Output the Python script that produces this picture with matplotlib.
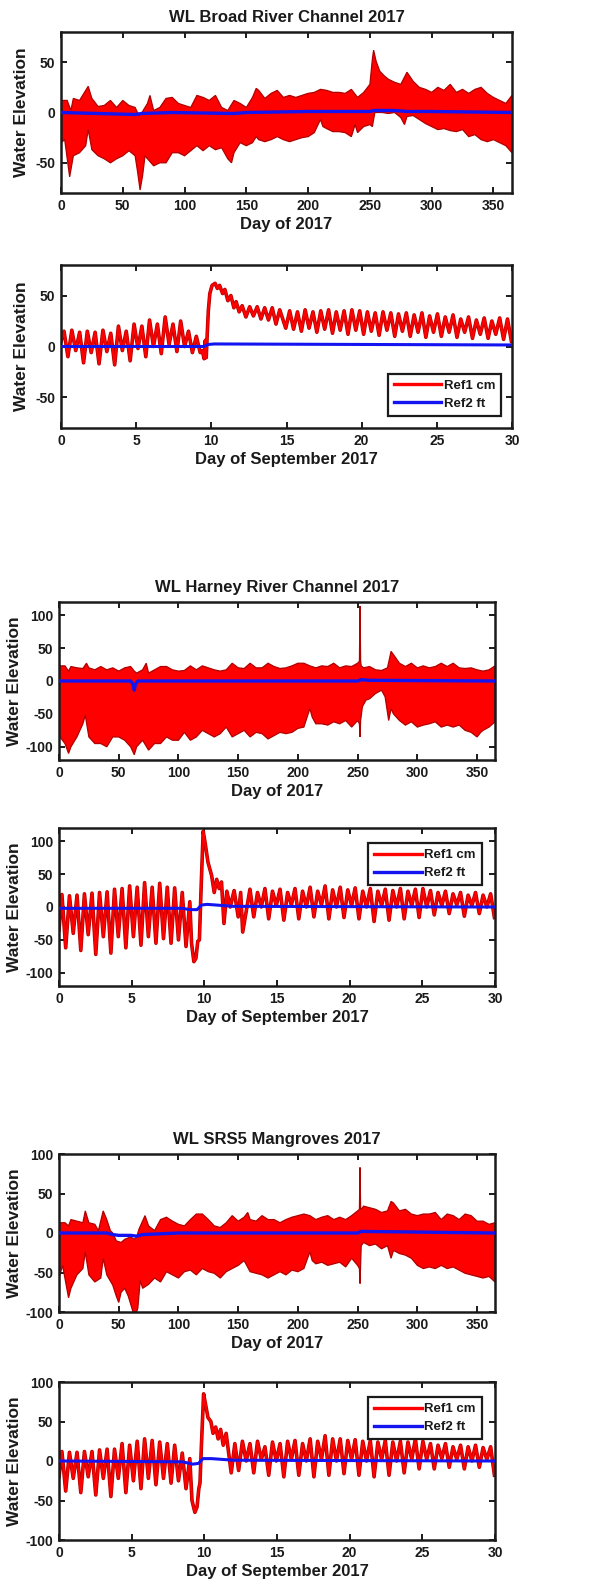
import numpy as np
import matplotlib
matplotlib.use("Agg")
import matplotlib.pyplot as plt
from matplotlib.lines import Line2D

plt.rcParams['font.family'] = ['Liberation Sans', 'DejaVu Sans']
plt.rcParams['font.weight'] = 'bold'
plt.rcParams['axes.unicode_minus'] = False

N = None

# ---------------- annual records: upper / lower envelope of Ref1 (cm) ----------------
broad_hi_days = [0, 5, 8, 10, 15, 20, 22, 25, 30, 35, 40, 45, 50, 55, 60, 63, 65, 70, 72, 75,
                 80, 85, 90, 95, 100, 105, 110, 115, 120, 125, 130, 135, 140, 145, 150, 155, 158,
                 160, 165, 170, 175, 180, 185, 190, 195, 200, 205, 210, 215, 220, 225, 230, 235,
                 240, 245, 250, 252, 253, 255, 258, 262, 265, 270, 275, 280, 285, 290, 295, 300,
                 305, 310, 315, 320, 325, 330, 335, 340, 345, 350, 355, 360, 365]
broad_hi = [12, 12, 2, 14, 12, 22, 26, 14, 6, 7, 12, 5, 12, 7, 5, -3, -1, 9, 17, 2,
            5, 14, 15, 9, 7, 5, 17, 15, 12, 17, 5, 2, 12, 9, 5, 15, 24,
            22, 14, 19, 22, 15, 17, 15, 17, 19, 20, 23, 22, 20, 20, 19, 23,
            15, 20, 28, 53, 62, 51, 41, 36, 33, 30, 28, 40, 31, 25, 23, 20,
            25, 22, 28, 20, 23, 19, 23, 25, 19, 15, 12, 9, 17]
broad_lo_days = [0, 3, 7, 10, 15, 20, 22, 25, 30, 35, 40, 45, 50, 55, 60, 62, 64, 66, 68, 70,
                 75, 80, 85, 90, 95, 100, 105, 110, 115, 120, 125, 130, 135, 138, 140, 145, 150,
                 155, 158, 160, 165, 170, 175, 180, 185, 190, 195, 200, 205, 210, 212, 215, 220,
                 225, 230, 235, 238, 240, 245, 250, 252, 254, 260, 265, 270, 275, 278, 280, 285,
                 290, 295, 300, 305, 310, 315, 320, 325, 330, 335, 340, 345, 350, 355, 360, 365]
broad_lo = [-30, -27, -64, -43, -40, -33, -17, -37, -43, -46, -50, -46, -43, -38, -43, -59, -77, -63, -43, -46,
            -53, -50, -50, -40, -40, -43, -38, -33, -38, -33, -37, -35, -46, -50, -40, -30, -33,
            -30, -24, -27, -29, -27, -24, -27, -29, -27, -25, -24, -20, -7, -14, -16, -19,
            -19, -20, -24, -12, -20, -14, -12, -14, 0, 0, -1, 0, -5, -12, -4, -3,
            -7, -11, -14, -17, -16, -18, -19, -17, -24, -22, -27, -29, -27, -30, -33, -40]
broad_ref2_days = [0, 30, 60, 65, 90, 140, 150, 200, 250, 253, 270, 280, 300, 365]
broad_ref2 = [0, -1, -2, -1, 0, -1, 0, 1, 1, 2, 2, 1, 1, 0]

harney_hi_days = [0, 5, 8, 10, 15, 20, 23, 25, 30, 35, 40, 45, 50, 55, 60, 63, 65, 70, 73, 75,
                  80, 85, 90, 95, 100, 105, 110, 115, 120, 125, 130, 135, 140, 145, 150, 155, 160,
                  165, 170, 175, 180, 185, 190, 195, 200, 205, 210, 215, 220, 225, 230, 235, 240,
                  245, 250, 251.5, 252, 252.5, 253, 255, 260, 265, 270, 275, 278, 280, 285, 290,
                  295, 300, 305, 310, 315, 320, 325, 330, 335, 340, 345, 350, 355, 360, 365]
harney_hi = [23, 23, 15, 22, 20, 19, 27, 20, 17, 22, 17, 20, 15, 20, 22, 15, 12, 17, 27, 12,
             17, 22, 22, 17, 15, 16, 23, 17, 23, 20, 17, 15, 17, 27, 20, 19, 27,
             20, 20, 27, 22, 19, 20, 23, 27, 27, 23, 20, 23, 22, 27, 20, 23,
             22, 27, 30, 114, 30, 23, 20, 22, 17, 16, 20, 45, 40, 27, 22,
             27, 20, 23, 20, 22, 27, 22, 27, 20, 19, 20, 17, 15, 17, 23]
harney_lo_days = [0, 5, 8, 10, 15, 20, 22, 25, 30, 35, 40, 45, 50, 55, 60, 63, 65, 70, 75, 80,
                  85, 90, 95, 100, 105, 110, 115, 120, 125, 130, 135, 140, 145, 150, 155, 160, 165,
                  170, 175, 180, 185, 190, 195, 200, 205, 210, 212, 215, 220, 225, 230, 235, 240,
                  245, 250, 251.5, 252, 252.5, 254, 257, 260, 265, 270, 273, 276, 278, 280, 285,
                  290, 295, 300, 305, 310, 315, 320, 325, 330, 335, 340, 345, 350, 353, 355, 360, 365]
harney_lo = [-83, -95, -110, -100, -85, -65, -52, -85, -95, -95, -100, -85, -85, -90, -100, -112, -100, -90, -105, -95,
             -95, -85, -90, -90, -78, -90, -85, -75, -80, -85, -80, -70, -85, -80, -75, -85, -78,
             -80, -88, -83, -78, -80, -78, -72, -70, -42, -55, -65, -65, -67, -62, -65, -60,
             -70, -60, -65, -85, -60, -39, -29, -27, -19, -14, -24, -60, -42, -50, -60,
             -67, -62, -70, -67, -65, -62, -70, -67, -70, -67, -75, -78, -85, -78, -75, -70, -62]
harney_ref2_days = [0, 60, 62, 63, 64, 66, 250, 253, 260, 365]
harney_ref2 = [0, 0, -5, -14, -5, 0, 0, 2, 1, 0]

srs5_hi_days = [0, 5, 8, 10, 15, 20, 22, 25, 30, 33, 37, 40, 43, 45, 48, 52, 55, 60, 63, 65,
                67, 72, 75, 80, 85, 90, 95, 100, 105, 110, 115, 120, 125, 130, 135, 140, 145,
                150, 155, 158, 160, 165, 170, 175, 180, 185, 190, 195, 200, 205, 210, 215, 220,
                225, 230, 235, 240, 245, 250, 251.5, 252, 252.5, 253, 255, 260, 265, 270, 275,
                278, 280, 285, 290, 295, 300, 305, 310, 315, 320, 325, 330, 335, 340, 345, 350,
                355, 360, 365]
srs5_hi = [13, 13, 9, 17, 15, 13, 28, 13, 11, 3, 28, 17, 3, 0, -10, -12, -8, -5, -8, -5,
           5, 22, 9, 3, 17, 20, 15, 11, 9, 17, 24, 24, 17, 9, 7, 13, 22,
           15, 20, 26, 17, 15, 22, 17, 17, 13, 17, 20, 22, 24, 22, 17, 20,
           22, 17, 20, 17, 22, 28, 30, 83, 30, 30, 34, 32, 30, 26, 28,
           40, 38, 28, 30, 24, 22, 24, 24, 26, 17, 24, 22, 17, 24, 22, 15,
           15, 11, 13]
srs5_lo_days = [0, 3, 8, 10, 15, 20, 22, 25, 30, 35, 37, 40, 45, 48, 50, 52, 55, 58, 60, 62,
                65, 66, 68, 70, 75, 80, 85, 90, 95, 100, 105, 110, 115, 120, 125, 130, 135,
                140, 145, 150, 155, 160, 165, 170, 175, 180, 185, 190, 195, 200, 205, 210, 212,
                215, 220, 225, 230, 235, 240, 245, 250, 251.5, 252, 252.5, 253, 255, 260, 265,
                270, 275, 278, 280, 285, 290, 295, 300, 305, 310, 315, 320, 325, 330, 335, 340,
                345, 350, 355, 360, 365]
srs5_lo = [-57, -41, -82, -70, -53, -45, -24, -53, -62, -57, -32, -53, -66, -80, -88, -75, -70, -80, -90, -100,
           -100, -95, -60, -70, -65, -57, -62, -49, -53, -57, -49, -47, -53, -45, -49, -51, -57,
           -49, -45, -41, -35, -49, -51, -53, -57, -53, -49, -53, -47, -49, -45, -24, -35,
           -39, -37, -41, -39, -37, -43, -32, -41, -45, -64, -40, -16, -12, -16, -14,
           -20, -16, -32, -22, -26, -28, -32, -41, -45, -43, -45, -41, -45, -43, -47, -51,
           -53, -55, -57, -55, -62]
srs5_ref2_days = [0, 40, 45, 50, 60, 65, 70, 100, 250, 253, 365]
srs5_ref2 = [0, 0, -2, -3, -3, -4, -2, 0, 0, 2, 0]

# ---------------- September: tidal high/low water times (days) ----------------
sep_tide_days = [0.20, 0.46, 0.72, 0.98, 1.24, 1.50, 1.75, 2.01, 2.27, 2.53, 2.79, 3.05, 3.31, 3.57,
                 3.82, 4.08, 4.34, 4.60, 4.86, 5.12, 5.38, 5.64, 5.89, 6.15, 6.41, 6.67, 6.93, 7.19,
                 7.45, 7.71, 7.96, 8.22, 8.48, 8.74, 9.00, 9.26, 9.52, 9.78, 10.03, 10.29, 10.55,
                 10.81, 11.07, 11.33, 11.59, 11.85, 12.10, 12.36, 12.62, 12.88, 13.14, 13.40, 13.66,
                 13.92, 14.17, 14.43, 14.69, 14.95, 15.21, 15.47, 15.73, 15.99, 16.24, 16.50, 16.76,
                 17.02, 17.28, 17.54, 17.80, 18.06, 18.31, 18.57, 18.83, 19.09, 19.35, 19.61, 19.87,
                 20.13, 20.38, 20.64, 20.90, 21.16, 21.42, 21.68, 21.94, 22.20, 22.45, 22.71, 22.97,
                 23.23, 23.49, 23.75, 24.01, 24.27, 24.52, 24.78, 25.04, 25.30, 25.56, 25.82, 26.08,
                 26.34, 26.59, 26.85, 27.11, 27.37, 27.63, 27.89, 28.15, 28.41, 28.66, 28.92, 29.18,
                 29.44, 29.70, 29.96]

# Broad River (cm): alternating high / low water; None during the storm surge
broad_sep_tide = [15, -10, 16, -4, 14, -16, 15, -6, 14, -17,
                  16, -5, 13, -18, 20, -4, 15, -14, 22, -2,
                  20, -10, 26, 0, 22, -7, 29, 2, 22, -5,
                  25, 0, 15, -6, 10, N,
                  N, N, N, N, N, N, N, N, N, N, N, N, N, N, N, N, N, N, N, N,
                  N, 18,
                  35, 17, 34, 15, 36, 18, 34, 14, 35, 17,
                  36, 13, 34, 16, 35, 12, 36, 16, 35, 12,
                  34, 15, 33, 11, 34, 16, 33, 10, 32, 15,
                  33, 10, 31, 14, 33, 9, 30, 14, 32, 10,
                  29, 14, 31, 9, 27, 14, 29, 8, 26, 12,
                  28, 8, 25, 12, 28, 7, 27, 5]
broad_sep_extra_days = [0.0, 9.26, 9.40, 9.52, 9.60, 9.66, 9.72, 9.80, 9.90, 10.05, 10.25, 10.40,
                        10.55, 10.75, 10.90, 11.10, 11.30, 11.50, 11.65, 11.85, 12.05, 12.30,
                        12.55, 12.80, 13.05, 13.30, 13.55, 13.80, 14.05, 14.30, 14.55]
broad_sep_extra = [5, -6, -4, -12, 6, -11, 10, 35, 52, 60, 62, 57,
                   60, 52, 56, 45, 50, 38, 44, 34, 40, 29,
                   39, 30, 39, 27, 38, 26, 38, 22, 36]
broad_sep_ref2_days = [0, 9.5, 9.8, 10.2, 30]
broad_sep_ref2 = [0, 0, 2, 2.5, 1.5]

harney_sep_tide = [19, -62, 17, -40, 18, -66, 20, -42, 21, -72,
                   22, -45, 23, -70, 27, -45, 28, -62, 32, -45,
                   30, -58, 37, -45, 30, -55, 36, -48, 30, -55,
                   29, -50, 22, -60,
                   N, N, N, N, N, N, N, N, N, N, N, N, N, N, N, N,
                   27, -15, 22, 0, 28, -18, 24, 2, 27, -20,
                   22, 3, 28, -18, 24, 0, 30, -15, 24, 3,
                   32, -18, 26, 0, 30, -16, 26, 2, 29, -18,
                   24, 0, 28, -22, 24, 2, 27, -20, 25, 0,
                   28, -18, 24, 2, 27, -16, 28, 0, 25, -12,
                   22, 2, 24, -10, 20, 3, 22, -14, 18, 2,
                   22, -10, 18, 0, 20, -16]
harney_sep_extra_days = [0.0, 9.00, 9.12, 9.28, 9.42, 9.55, 9.66, 9.78, 9.92, 10.05, 10.25, 10.50,
                         10.68, 10.85, 11.02, 11.18, 11.35, 11.55, 11.78, 12.05, 12.33, 12.50, 12.64]
harney_sep_extra = [-35, 8, -55, -83, -78, -52, -50, 30, 115, 98, 68, 48,
                    22, 42, 28, 38, -25, 24, 0, 25, -15, 22, -38]
harney_sep_ref2_days = [0, 8.5, 9.0, 9.5, 9.8, 10.2, 12, 30]
harney_sep_ref2 = [-2, -2, -4, -4, 3, 4, 1, 0]

srs5_sep_tide = [12, -38, 11, -22, 11, -40, 12, -20, 12, -43,
                 14, -22, 15, -45, 15, -22, 22, -40, 20, -25,
                 25, -35, 28, -22, 26, -30, 24, -22, 22, -28,
                 20, -25, 10, -35,
                 N, N, N, N, N, N, N, N, N, N,
                 N, -15,
                 22, -12, 25, 0, 22, -15, 25, 2, 18, -18,
                 24, 0, 22, -20, 25, 2, 26, -18, 22, 0,
                 28, -20, 25, 2, 32, -18, 28, 0, 28, -16,
                 26, 2, 27, -18, 25, 0, 26, -20, 24, 2,
                 26, -18, 24, 0, 25, -15, 24, 2, 28, -10,
                 25, 2, 22, -10, 20, 3, 22, -8, 18, 2,
                 20, -10, 18, 0, 20, -8, 17, 2, 18, -18]
srs5_sep_extra_days = [0.0, 9.00, 9.15, 9.35, 9.50, 9.62, 9.70, 9.80, 9.95, 10.10, 10.25, 10.45,
                       10.60, 10.78, 10.95, 11.12, 11.30, 11.50]
srs5_sep_extra = [-20, 3, -50, -65, -58, -35, -28, 20, 85, 70, 55, 50,
                  35, 43, 28, 40, 20, 35]
srs5_sep_ref2_days = [0, 8.5, 9.2, 9.6, 9.9, 10.5, 12, 30]
srs5_sep_ref2 = [0, -1, -4, -3, 3, 3, 1, 0]

# ---------------- drawing ----------------
RED = '#ff0000'
RED_EDGE = '#b00000'
BLUE = '#1414f0'
INK = '#1a1a1a'
W, H = 591, 1589
fig = plt.figure(figsize=(W / 100, H / 100), dpi=100)


def add_box(left, top, right, bottom):
    return fig.add_axes([left / W, 1 - bottom / H, (right - left) / W, (bottom - top) / H])


def style(ax, box, xmax, xstep, ylim, ystep, xlabel, ylabel_x, title=None):
    # ylabel_x: pixel column of the label's inner (right) edge
    left, top, right, bottom = box
    ax.set_xlim(0, xmax)
    ax.set_ylim(-ylim, ylim)
    ax.set_xticks(np.arange(0, xmax + 0.01, xstep))
    ax.set_yticks(np.arange(-ystep * (ylim // ystep), ylim + 0.01, ystep))
    ax.tick_params(direction='in', top=True, right=True, length=4, width=1.4,
                   labelsize=10, pad=4, colors=INK)
    for lab in ax.get_xticklabels() + ax.get_yticklabels():
        lab.set_fontweight('bold')
    for s in ax.spines.values():
        s.set_linewidth(1.8)
        s.set_color(INK)
    ax.set_xlabel(xlabel, fontsize=12, fontweight='bold', color=INK, labelpad=3)
    ax.set_ylabel('Water Elevation', fontsize=12.5, fontweight='bold', color=INK)
    ax.yaxis.set_label_coords((ylabel_x - left) / (right - left), 0.5)
    if title:
        ax.set_title(title, fontsize=12, fontweight='bold', color=INK, pad=7)


def annual(ax, hi_d, hi, lo_d, lo, r2_d, r2):
    xs = list(hi_d) + list(lo_d)[::-1]
    ys = list(hi) + list(lo)[::-1]
    ax.fill(xs, ys, facecolor=RED, edgecolor=RED_EDGE, linewidth=0.9, zorder=2)
    ax.plot(r2_d, r2, color=BLUE, lw=2.4, zorder=3)


def september(ax, tide, extra_d, extra, r2_d, r2):
    d = np.array(sep_tide_days)
    v = np.array([np.nan if t is None else t for t in tide], dtype=float)
    ok = ~np.isnan(v)
    days = np.concatenate([d[ok], extra_d])
    vals = np.concatenate([v[ok], extra])
    order = np.argsort(days)
    ax.plot(days[order], vals[order], color=RED_EDGE, lw=2.6, zorder=2, solid_joinstyle='round')
    ax.plot(days[order], vals[order], color=RED, lw=1.6, zorder=2.1, solid_joinstyle='round')
    ax.plot(r2_d, r2, color=BLUE, lw=2.2, zorder=3)


def legend(ax, loc, anchor):
    h1 = Line2D([], [], color=RED, lw=2.4)
    h2 = Line2D([], [], color=BLUE, lw=2.4)
    leg = ax.legend([h1, h2], ['Ref1 cm', 'Ref2 ft'], loc=loc, bbox_to_anchor=anchor,
                    borderaxespad=0, fancybox=False, framealpha=1, edgecolor=INK,
                    handlelength=3.6, handletextpad=0.2, borderpad=0.45, labelspacing=0.45,
                    prop={'size': 9.5, 'weight': 'bold'})
    leg.get_frame().set_linewidth(1.6)
    for t in leg.get_texts():
        t.set_color(INK)


# Broad River Channel
box1 = (61, 32, 512, 193)
ax1 = add_box(*box1)
annual(ax1, broad_hi_days, broad_hi, broad_lo_days, broad_lo, broad_ref2_days, broad_ref2)
style(ax1, box1, 365, 50, 80, 50, 'Day of 2017', 29, 'WL Broad River Channel 2017')
ax1.set_xlim(0, 365)

box2 = (61, 265, 512, 428)
ax2 = add_box(*box2)
september(ax2, broad_sep_tide, broad_sep_extra_days, broad_sep_extra,
          broad_sep_ref2_days, broad_sep_ref2)
style(ax2, box2, 30, 5, 80, 50, 'Day of September 2017', 29)
legend(ax2, 'lower right', (0.976, 0.074))

# Harney River Channel
box3 = (59, 602, 495, 760)
ax3 = add_box(*box3)
annual(ax3, harney_hi_days, harney_hi, harney_lo_days, harney_lo, harney_ref2_days, harney_ref2)
style(ax3, box3, 365, 50, 120, 50, 'Day of 2017', 22, 'WL Harney River Channel 2017')
ax3.set_xlim(0, 365)

box4 = (59, 828, 495, 986)
ax4 = add_box(*box4)
september(ax4, harney_sep_tide, harney_sep_extra_days, harney_sep_extra,
          harney_sep_ref2_days, harney_sep_ref2)
style(ax4, box4, 30, 5, 120, 50, 'Day of September 2017', 22)
legend(ax4, 'upper right', (0.970, 0.905))

# SRS5 Mangroves
box5 = (59, 1154, 495, 1312)
ax5 = add_box(*box5)
annual(ax5, srs5_hi_days, srs5_hi, srs5_lo_days, srs5_lo, srs5_ref2_days, srs5_ref2)
style(ax5, box5, 365, 50, 100, 50, 'Day of 2017', 22, 'WL SRS5 Mangroves 2017')
ax5.set_xlim(0, 365)

box6 = (59, 1382, 495, 1540)
ax6 = add_box(*box6)
september(ax6, srs5_sep_tide, srs5_sep_extra_days, srs5_sep_extra,
          srs5_sep_ref2_days, srs5_sep_ref2)
style(ax6, box6, 30, 5, 100, 50, 'Day of September 2017', 22)
legend(ax6, 'upper right', (0.970, 0.905))

fig.savefig('out.png', dpi=100, facecolor='white')
